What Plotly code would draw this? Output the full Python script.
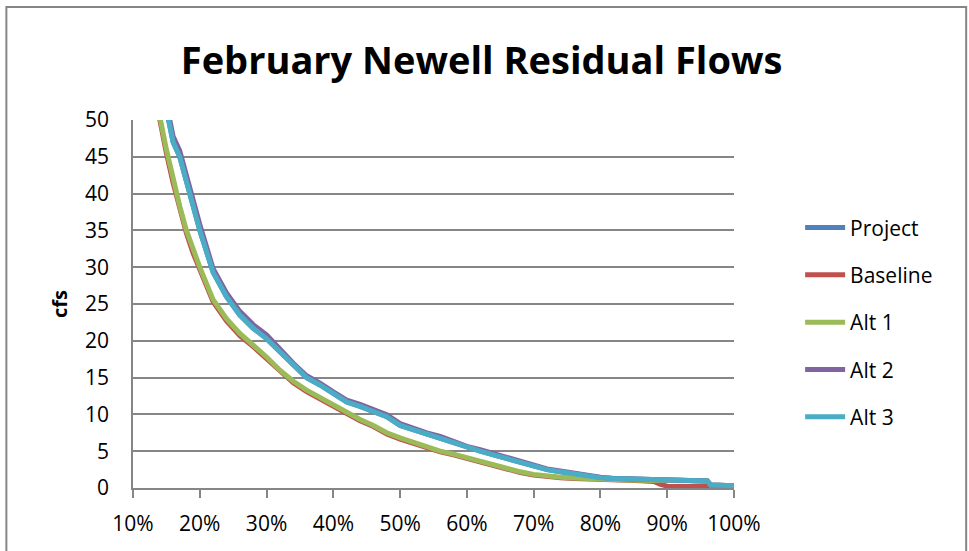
import plotly.graph_objects as go

# exceedance probability (fraction of time flow is exceeded)
exceedance = [0.12, 0.13, 0.14, 0.15, 0.16, 0.17, 0.18, 0.19, 0.20, 0.22, 0.24, 0.26,
              0.28, 0.30, 0.32, 0.34, 0.36, 0.38, 0.40, 0.42, 0.44, 0.46, 0.48, 0.50,
              0.52, 0.54, 0.56, 0.58, 0.60, 0.62, 0.64, 0.66, 0.68, 0.70, 0.72, 0.74,
              0.76, 0.78, 0.80, 0.82, 0.84, 0.86, 0.88, 0.89, 0.90, 0.92, 0.94, 0.96,
              0.965, 0.98, 1.00]

alt3 = [66, 60, 55.5, 51.5, 47, 45, 41.5, 38.2, 35, 29.3, 26, 23.5,
        21.7, 20.3, 18.5, 16.7, 15, 14, 12.8, 11.7, 11.1, 10.4, 9.7, 8.5,
        7.9, 7.3, 6.8, 6.1, 5.45, 5.0, 4.5, 4.0, 3.5, 2.95, 2.5, 2.2,
        1.9, 1.6, 1.4, 1.3, 1.25, 1.2, 1.15, 1.1, 1.05, 1.0, 1.0, 0.95,
        0.4, 0.35, 0.3]

alt2 = [67, 61, 56.3, 52.3, 47.8, 45.8, 42.3, 39, 35.8, 29.8, 26.5, 24,
        22.2, 20.8, 18.75, 16.95, 15.25, 14.25, 13.05, 11.95, 11.35, 10.65, 9.95, 8.75,
        8.1, 7.5, 7.0, 6.3, 5.65, 5.2, 4.7, 4.2, 3.7, 3.15, 2.6, 2.3,
        2.0, 1.7, 1.45, 1.3, 1.25, 1.2, 1.15, 1.1, 1.05, 1.0, 1.0, 0.95,
        0.4, 0.35, 0.3]

project = alt3

alt1 = [60, 55, 50.5, 46, 42, 38.3, 35, 32.3, 30, 25.6, 23, 21,
        19.5, 17.8, 16, 14.5, 13.3, 12.3, 11.3, 10.2, 9.3, 8.5, 7.5, 6.8,
        6.2, 5.5, 5.0, 4.6, 4.1, 3.6, 3.05, 2.6, 2.2, 1.85, 1.6, 1.45,
        1.35, 1.25, 1.2, 1.15, 1.1, 1.05, 1.05, 1.0, 1.0, 1.0, 0.95, 0.95,
        0.4, 0.35, 0.3]

baseline = [59.3, 54.4, 50, 45.5, 41.5, 37.8, 34.6, 31.9, 29.6, 25.3, 22.7, 20.7,
            19.2, 17.6, 15.8, 14.3, 13.1, 12.1, 11.1, 10.0, 9.15, 8.35, 7.35, 6.65,
            6.05, 5.4, 4.9, 4.5, 4.0, 3.5, 2.95, 2.5, 2.1, 1.75, 1.5, 1.4,
            1.3, 1.2, 1.15, 1.1, 1.05, 1.0, 0.9, 0.5, 0.25, 0.2, 0.2, 0.2,
            0.2, 0.2, 0.2]

series = [("Project", project, "#4F81BD"),
          ("Baseline", baseline, "#C0504D"),
          ("Alt 1", alt1, "#9BBB59"),
          ("Alt 2", alt2, "#8064A2"),
          ("Alt 3", alt3, "#4BACC6")]

x_ticks = [0.1, 0.2, 0.3, 0.4, 0.5, 0.6, 0.7, 0.8, 0.9, 1.0]
y_ticks = [0, 5, 10, 15, 20, 25, 30, 35, 40, 45, 50]

grid = "#868686"

fig = go.Figure()
for name, vals, color in series:
    fig.add_trace(go.Scatter(x=exceedance, y=vals, mode="lines", name=name,
                             legendgroup=name,
                             line=dict(color=color, width=5)))

fig.update_layout(
    width=969, height=551,
    margin=dict(l=133, r=235, t=120, b=63),
    paper_bgcolor="white", plot_bgcolor="white",
    font=dict(family="Open Sans", size=21, color="black"),
    title=dict(text="<b>February Newell Residual Flows</b>", x=0.497, xanchor="center",
               y=0.89, yanchor="middle", font=dict(size=38)),
    showlegend=True,
    legend=dict(x=1.11, xanchor="left", y=0.45, yanchor="middle",
                tracegroupgap=17, font=dict(size=21), itemwidth=40),
    xaxis=dict(range=[0.1, 1.0], tickvals=x_ticks, tickformat=".0%",
               showgrid=False, showline=True, linecolor=grid, linewidth=1.5,
               ticks="outside", ticklen=8, tickcolor=grid, tickwidth=1.5,
               ticklabelstandoff=8, zeroline=False),
    yaxis=dict(range=[0, 50], tickvals=y_ticks, showgrid=True, gridcolor=grid,
               gridwidth=1.5, showline=True, linecolor=grid, linewidth=1.5,
               zeroline=False, ticks="", ticklabelstandoff=18,
               title=dict(text="<b>cfs</b>", font=dict(size=20), standoff=12)),
    shapes=[dict(type="rect", xref="paper", yref="paper",
                 x0=-0.2107, x1=1.3863, y0=-0.2, y1=1.3073,
                 line=dict(color=grid, width=2), layer="below")],
)

fig.write_html("out.html", config={"displayModeBar": False},
               post_script="document.body.style.margin='0';")
